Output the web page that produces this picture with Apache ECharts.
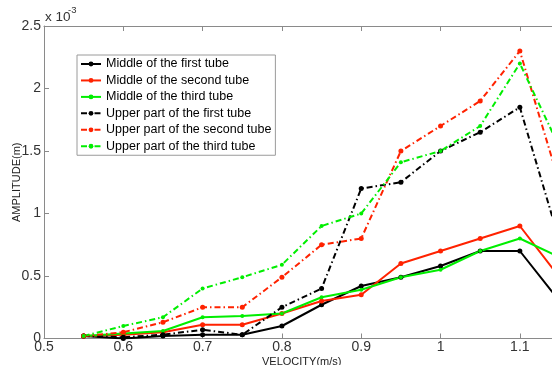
<!DOCTYPE html>
<html>
<head>
<meta charset="utf-8">
<script src="https://cdn.jsdelivr.net/npm/echarts@6/dist/echarts.min.js"></script>
<style>
  body { margin: 0; padding: 0; background: #fff; }
  #chart { width: 552px; height: 365px; }
</style>
</head>
<body>
<div id="chart"></div>
<script>
// velocity (m/s) and amplitudes in units of 1e-3 m
const velocity = [0.55, 0.6, 0.65, 0.7, 0.75, 0.8, 0.85, 0.9, 0.95, 1.0, 1.05, 1.1, 1.15];
const midFirst  = [0.02, 0.00, 0.02, 0.03, 0.03, 0.10, 0.27, 0.42, 0.49, 0.58, 0.70, 0.70, 0.30];
const midSecond = [0.02, 0.03, 0.05, 0.11, 0.11, 0.20, 0.30, 0.35, 0.60, 0.70, 0.80, 0.90, 0.49];
const midThird  = [0.02, 0.04, 0.06, 0.17, 0.18, 0.20, 0.33, 0.39, 0.49, 0.55, 0.70, 0.80, 0.65];
const upFirst   = [0.02, 0.01, 0.03, 0.07, 0.03, 0.25, 0.40, 1.20, 1.25, 1.50, 1.65, 1.85, 0.78];
const upSecond  = [0.02, 0.05, 0.13, 0.25, 0.25, 0.49, 0.75, 0.80, 1.50, 1.70, 1.90, 2.30, 1.24];
const upThird   = [0.02, 0.10, 0.17, 0.40, 0.49, 0.59, 0.90, 1.00, 1.41, 1.50, 1.70, 2.20, 1.53];
const seriesNames = [
  'Middle of the first tube',
  'Middle of the second tube',
  'Middle of the third tube',
  'Upper part of the first tube',
  'Upper part of the second tube',
  'Upper part of the third tube'
];

const BLACK = '#000000', RED = '#ff2200', GREEN = '#00ee00';
const dashDot = [6, 3, 1.5, 3];
const FONT = '"Liberation Sans", Arial, sans-serif';

function line(name, values, color, dashed, size) {
  return {
    name: name,
    type: 'line',
    data: velocity.map((v, i) => [v, values[i]]),
    symbol: 'circle',
    symbolSize: size,
    showSymbol: true,
    clip: true,
    itemStyle: { color: color },
    lineStyle: { color: color, width: 2, type: dashed ? dashDot : 'solid' },
    emphasis: { disabled: true }
  };
}

const chart = echarts.init(document.getElementById('chart'));
chart.setOption({
  animation: false,
  textStyle: { fontFamily: FONT },
  grid: { left: 44, top: 26, right: -7.5, bottom: 26.5, outerBoundsMode: 'none', containLabel: false },
  legend: {
    orient: 'vertical',
    left: 77,
    top: 55,
    itemWidth: 20,
    itemHeight: 6,
    itemGap: 2.45,
    itemTextGap: 2,
    padding: [2, 4, 2, 3],
    backgroundColor: '#fff',
    borderColor: '#9a9a9a',
    borderWidth: 1,
    textStyle: { fontSize: 12.5, color: '#000', lineHeight: 14 },
    data: seriesNames
  },
  xAxis: [{
    type: 'value',
    min: 0.5,
    max: 1.15,
    interval: 0.1,
    name: 'VELOCITY(m/s)',
    nameLocation: 'middle',
    nameGap: 17.5,
    nameMoveOverlap: false,
    nameTextStyle: { fontSize: 11, color: '#222' },
    axisLine: { lineStyle: { color: '#8a8a8a', width: 1 } },
    axisTick: { inside: true, length: 5, lineStyle: { color: '#8a8a8a' } },
    axisLabel: { fontSize: 14, color: '#333', margin: 2, showMaxLabel: false },
    splitLine: { show: false }
  }, {
    type: 'value',
    position: 'top',
    min: 0.5,
    max: 1.15,
    interval: 0.1,
    axisLine: { lineStyle: { color: '#8a8a8a', width: 1 } },
    axisTick: { inside: true, length: 5, lineStyle: { color: '#8a8a8a' } },
    axisLabel: { show: false },
    splitLine: { show: false }
  }],
  yAxis: {
    type: 'value',
    min: 0,
    max: 2.5,
    interval: 0.5,
    name: 'AMPLITUDE(m)',
    nameLocation: 'middle',
    nameGap: 22,
    nameMoveOverlap: false,
    nameTextStyle: { fontSize: 11, color: '#222' },
    axisLine: { show: true, lineStyle: { color: '#8a8a8a', width: 1 } },
    axisTick: { show: true, inside: true, length: 5, lineStyle: { color: '#8a8a8a' } },
    axisLabel: { fontSize: 14, color: '#333', margin: 3 },
    splitLine: { show: false }
  },
  graphic: [
    { type: 'text', left: 45, top: 10, style: { text: 'x 10', fontSize: 13.5, fill: '#333', fontFamily: FONT } },
    { type: 'text', left: 68, top: 5, style: { text: '-3', fontSize: 9.5, fill: '#333', fontFamily: FONT } }
  ],
  series: [
    line(seriesNames[0], midFirst, BLACK, false, 5),
    line(seriesNames[1], midSecond, RED, false, 5),
    line(seriesNames[2], midThird, GREEN, false, 4),
    line(seriesNames[3], upFirst, BLACK, true, 5),
    line(seriesNames[4], upSecond, RED, true, 5),
    line(seriesNames[5], upThird, GREEN, true, 4)
  ]
});
</script>
</body>
</html>
